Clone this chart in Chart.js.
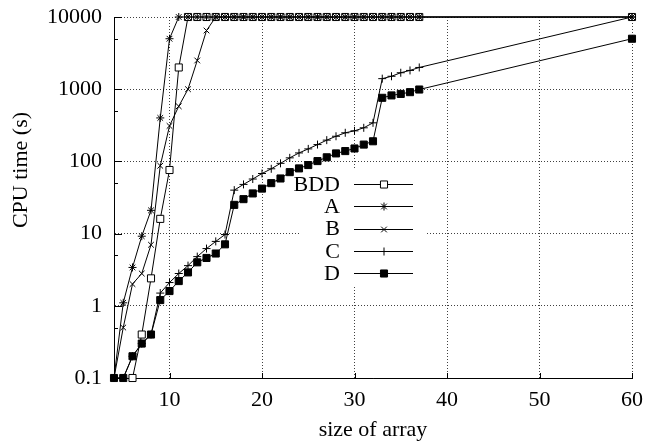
<!DOCTYPE html>
<html><head><meta charset="utf-8">
<script src="https://cdn.jsdelivr.net/npm/chart.js@4.4.1/dist/chart.umd.min.js"></script>
<style>html,body{margin:0;padding:0;background:#fff}canvas{display:block}</style>
</head><body>
<canvas id="c" width="646" height="447"></canvas>
<script>
// ---- data ----
const seriesNames = ['BDD', 'A', 'B', 'C', 'D'];
const xTickValues = [10, 20, 30, 40, 50, 60];
const yTickValues = [0.1, 1, 10, 100, 1000, 10000];
const yMinorTickValues = [0.5, 5, 50, 500, 5000];

const bddX = [6,7,8,9,10,11,12,13,14,15,16,17,18,19,20,21,22,23,24,25,26,27,28,29,30,31,32,33,34,35,36,37,60];
const bddY = [0.1,0.4,2.4,16,76,2000,10000,10000,10000,10000,10000,10000,10000,10000,10000,10000,10000,10000,10000,10000,10000,10000,10000,10000,10000,10000,10000,10000,10000,10000,10000,10000,10000];

const fullX = [4,5,6,7,8,9,10,11,12,13,14,15,16,17,18,19,20,21,22,23,24,25,26,27,28,29,30,31,32,33,34,35,36,37,60];
const aY = [0.1,1.1,3.4,9.2,21,400,5000,10000,10000,10000,10000,10000,10000,10000,10000,10000,10000,10000,10000,10000,10000,10000,10000,10000,10000,10000,10000,10000,10000,10000,10000,10000,10000,10000,10000];
const bY = [0.1,0.5,2,2.8,7,87,310,580,1000,2500,6500,10000,10000,10000,10000,10000,10000,10000,10000,10000,10000,10000,10000,10000,10000,10000,10000,10000,10000,10000,10000,10000,10000,10000,10000];
const cY = [0.1,0.1,0.2,0.3,0.4,1.5,2.1,2.8,3.6,4.8,6.2,7.8,9.7,40,48,57,68,79,94,112,131,149,171,197,223,249,265,292,342,1400,1510,1690,1820,2000,10000];
const dY = [0.1,0.1,0.2,0.3,0.4,1.2,1.6,2.2,2.9,4.0,4.6,5.3,7.1,25,30,36,42,50,58,71,80,89,101,114,129,139,151,171,190,760,820,860,910,990,5000];

const xTitle = 'size of array';
const yTitle = 'CPU time (s)';

// ---- build ----
function pts(xs, ys) { return xs.map((x, i) => ({x: x, y: ys[i]})); }
const FONT = '"Liberation Serif", "Times New Roman", serif';
const FS = 22;

const styles = [
  {pointStyle: 'rect', radius: 5, bg: '#fff'},
  {pointStyle: 'star', radius: 4, bg: '#000'},
  {pointStyle: 'crossRot', radius: 4, bg: '#000'},
  {pointStyle: 'cross', radius: 4, bg: '#000'},
  {pointStyle: 'rect', radius: 5, bg: '#000'}
];
const seriesData = [pts(bddX, bddY), pts(fullX, aY), pts(fullX, bY), pts(fullX, cY), pts(fullX, dY)];

const datasets = seriesNames.map((n, i) => ({
  label: n,
  data: seriesData[i],
  order: seriesNames.length - i,
  borderColor: '#000',
  borderWidth: 1,
  backgroundColor: styles[i].bg,
  pointStyle: styles[i].pointStyle,
  pointRadius: styles[i].radius,
  pointBorderWidth: 1,
  pointBorderColor: '#000',
  pointBackgroundColor: styles[i].bg,
  tension: 0,
  fill: false,
  clip: false
}));

const decor = {
  id: 'decor',
  beforeDatasetsDraw(chart) {
    const ctx = chart.ctx;
    ctx.save();
    ctx.fillStyle = '#fff';
    ctx.fillRect(300, 170, 127, 115);
    ctx.restore();
  },
  afterDraw(chart) {
    const ctx = chart.ctx;
    const xs = chart.scales.x, ys = chart.scales.y;
    const a = chart.chartArea;
    ctx.save();
    ctx.strokeStyle = '#000';
    ctx.lineWidth = 1;
    ctx.beginPath();
    yTickValues.forEach(v => {
      const p = Math.round(ys.getPixelForValue(v)) + 0.5;
      ctx.moveTo(a.left, p); ctx.lineTo(a.left + 8, p);
    });
    yMinorTickValues.forEach(v => {
      const p = Math.round(ys.getPixelForValue(v)) + 0.5;
      ctx.moveTo(a.left, p); ctx.lineTo(a.left + 4, p);
    });
    xTickValues.forEach(v => {
      const p = Math.round(xs.getPixelForValue(v)) + 0.5;
      ctx.moveTo(p, a.bottom); ctx.lineTo(p, a.bottom - 5);
    });
    ctx.stroke();

    // legend
    ctx.font = FS + 'px ' + FONT;
    ctx.fillStyle = '#000';
    ctx.textAlign = 'right';
    ctx.textBaseline = 'middle';
    chart.data.datasets.forEach((ds, i) => {
      const y = 184 + 22.3 * i;
      ctx.fillText(ds.label, 340, y + 1);
      ctx.beginPath();
      ctx.moveTo(354, Math.round(y) + 0.5); ctx.lineTo(413, Math.round(y) + 0.5);
      ctx.stroke();
      ctx.fillStyle = ds.pointBackgroundColor;
      ctx.strokeStyle = '#000';
      Chart.helpers.drawPoint(ctx, {pointStyle: ds.pointStyle, radius: ds.pointRadius, rotation: 0, borderWidth: 1}, 384, Math.round(y) + 0.5);
      ctx.fillStyle = '#000';
    });

    // axis titles
    ctx.textAlign = 'center';
    ctx.textBaseline = 'middle';
    ctx.fillText(xTitle, (a.left + a.right) / 2, 430);
    ctx.translate(21, 170);
    ctx.rotate(-Math.PI / 2);
    ctx.fillText(yTitle, 0, 0);
    ctx.restore();
  }
};

new Chart(document.getElementById('c'), {
  type: 'line',
  data: {datasets: datasets},
  options: {
    responsive: false,
    animation: false,
    layout: {padding: {top: 17, right: 14, left: 0, bottom: 0}},
    plugins: {legend: {display: false}, tooltip: {enabled: false}},
    scales: {
      x: {
        type: 'linear', min: 4, max: 60,
        afterBuildTicks: s => { s.ticks = xTickValues.map(v => ({value: v})); },
        afterFit: s => { s.height = 69; s.paddingLeft = 0; s.paddingRight = 0; s.paddingTop = 0; s.paddingBottom = 0; },
        ticks: {autoSkip: false, maxRotation: 0, padding: 9, color: '#000', font: {family: FONT, size: FS}},
        grid: {color: 'rgba(0,0,0,0.75)', lineWidth: 1, drawTicks: false},
        border: {display: true, color: '#000', width: 1, dash: [1, 2]}
      },
      y: {
        type: 'logarithmic', min: 0.1, max: 10000,
        afterBuildTicks: s => { s.ticks = yTickValues.map(v => ({value: v})); },
        afterFit: s => { s.width = 114; s.paddingLeft = 0; s.paddingRight = 0; s.paddingTop = 0; s.paddingBottom = 0; },
        ticks: {autoSkip: false, padding: 12, color: '#000', font: {family: FONT, size: FS}, callback: v => String(v)},
        grid: {color: 'rgba(0,0,0,0.75)', lineWidth: 1, drawTicks: false},
        border: {display: true, color: '#000', width: 1, dash: [1, 2]}
      }
    }
  },
  plugins: [decor]
});
</script>
</body></html>
